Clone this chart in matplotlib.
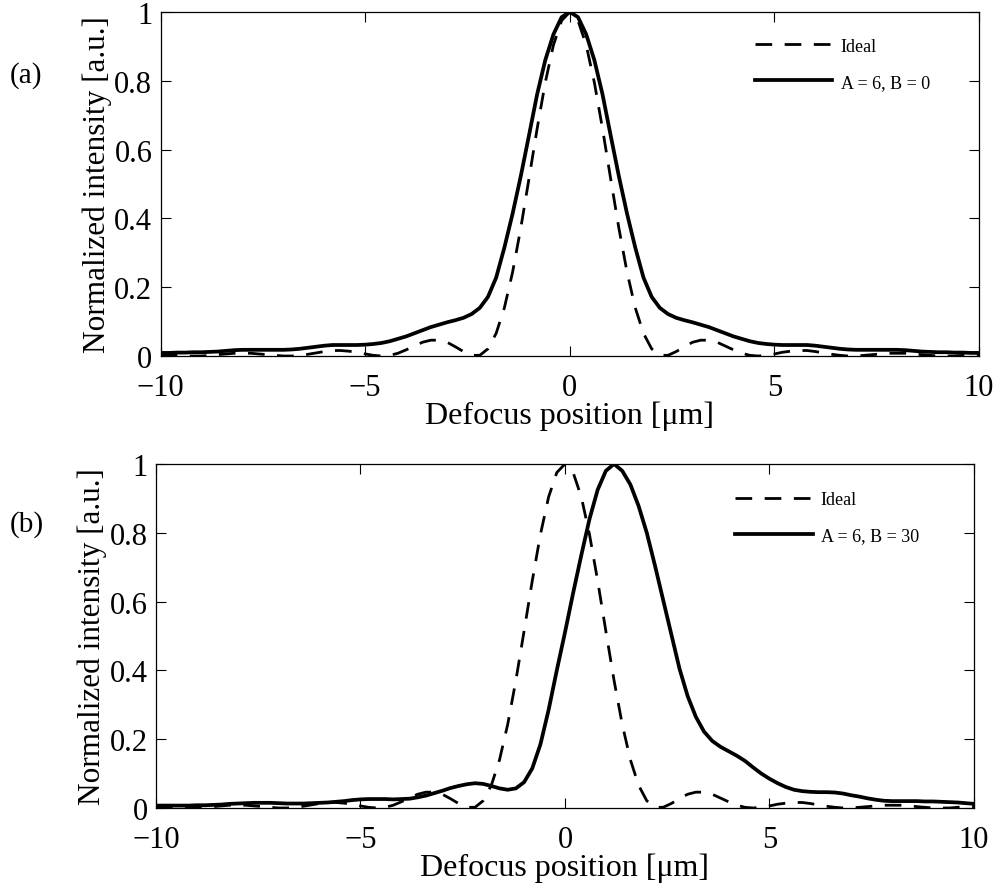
import numpy as np
import matplotlib
matplotlib.use('Agg')
import matplotlib.pyplot as plt

plt.rcParams['font.family'] = ['Liberation Serif', 'DejaVu Serif']

# defocus positions (um), step 0.2
defocus = np.linspace(-10, 10, 101)

# ideal focal intensity (same in both panels)
ideal = [0.004, 0.003, 0.002, 0.000, 0.000, 0.000, 0.002, 0.004, 0.006, 0.008,
         0.008, 0.008, 0.006, 0.004, 0.002, 0.000, 0.000, 0.002, 0.005, 0.009,
         0.013, 0.016, 0.016, 0.014, 0.011, 0.006, 0.002, 0.000, 0.002, 0.008,
         0.018, 0.029, 0.040, 0.046, 0.046, 0.040, 0.027, 0.013, 0.002, 0.002,
         0.021, 0.066, 0.140, 0.243, 0.371, 0.514, 0.660, 0.795, 0.904, 0.975,
         1.000,
         0.975, 0.904, 0.795, 0.660, 0.514, 0.371, 0.243, 0.140, 0.066, 0.021,
         0.002, 0.002, 0.013, 0.027, 0.040, 0.046, 0.046, 0.040, 0.029, 0.018,
         0.008, 0.002, 0.000, 0.002, 0.006, 0.011, 0.014, 0.016, 0.016, 0.013,
         0.009, 0.005, 0.002, 0.000, 0.000, 0.002, 0.004, 0.006, 0.008, 0.008,
         0.008, 0.006, 0.004, 0.002, 0.000, 0.000, 0.000, 0.002, 0.003, 0.004]

# A = 6, B = 0
ab_0 = [0.009, 0.009, 0.010, 0.010, 0.011, 0.011, 0.012, 0.013, 0.015, 0.017,
        0.018, 0.018, 0.018, 0.018, 0.018, 0.018, 0.019, 0.021, 0.024, 0.027,
        0.030, 0.032, 0.032, 0.032, 0.032, 0.033, 0.035, 0.038, 0.043, 0.050,
        0.057, 0.066, 0.075, 0.084, 0.091, 0.098, 0.104, 0.111, 0.122, 0.140,
        0.172, 0.228, 0.315, 0.413, 0.522, 0.640, 0.760, 0.860, 0.935, 0.985,
        1.000,
        0.985, 0.935, 0.860, 0.760, 0.640, 0.522, 0.413, 0.315, 0.228, 0.172,
        0.140, 0.122, 0.111, 0.104, 0.098, 0.091, 0.084, 0.075, 0.066, 0.057,
        0.050, 0.043, 0.038, 0.035, 0.033, 0.032, 0.032, 0.032, 0.032, 0.030,
        0.027, 0.024, 0.021, 0.019, 0.018, 0.018, 0.018, 0.018, 0.018, 0.018,
        0.017, 0.015, 0.013, 0.012, 0.011, 0.011, 0.010, 0.010, 0.009, 0.009]

# A = 6, B = 30
ab_30 = [0.007, 0.007, 0.007, 0.007, 0.007, 0.008, 0.008, 0.009, 0.010, 0.012,
         0.013, 0.014, 0.015, 0.015, 0.015, 0.014, 0.013, 0.013, 0.013, 0.014,
         0.015, 0.016, 0.018, 0.020, 0.023, 0.025, 0.026, 0.026, 0.026, 0.025,
         0.026, 0.027, 0.031, 0.036, 0.043, 0.050, 0.058, 0.064, 0.069, 0.072,
         0.070, 0.064, 0.057, 0.053, 0.057, 0.075, 0.115, 0.185, 0.285, 0.400,
         0.510,
         0.625, 0.735, 0.840, 0.925, 0.980, 1.000, 0.980, 0.940, 0.878, 0.800,
         0.705, 0.605, 0.505, 0.405, 0.325, 0.265, 0.222, 0.195, 0.178, 0.165,
         0.152, 0.137, 0.118, 0.100, 0.085, 0.072, 0.061, 0.053, 0.049, 0.047,
         0.046, 0.046, 0.045, 0.042, 0.037, 0.033, 0.028, 0.024, 0.021, 0.020,
         0.020, 0.020, 0.020, 0.019, 0.019, 0.018, 0.017, 0.016, 0.014, 0.012]

panels = [('(a)', ab_0, 'A = 6, B = 0'), ('(b)', ab_30, 'A = 6, B = 30')]
x_ticks = [-10, -5, 0, 5, 10]
y_ticks = [0, 0.2, 0.4, 0.6, 0.8, 1]
y_ticklabels = ['0', '0.2', '0.4', '0.6', '0.8', '1']

fig = plt.figure(figsize=(10.01, 8.95), dpi=100)
ax_rects = [[0.1605, 0.6011, 0.8175, 0.3844], [0.1558, 0.0961, 0.8172, 0.3844]]
legend_anchor = [(0.726, 0.925), (0.708, 0.92)]
label_y = [1 - 76 / 895, 1 - 525 / 895]

for i, (tag, values, name) in enumerate(panels):
    ax = fig.add_axes(ax_rects[i])
    ax.plot(defocus, ideal, color='black', lw=2.0, dashes=(6, 4.5), label='Ideal')
    ax.plot(defocus, values, color='black', lw=2.7, label=name)

    ax.set_xlim(-10, 10)
    ax.set_ylim(0, 1)
    ax.set_xticks(x_ticks)
    ax.set_yticks(y_ticks)
    ax.set_yticklabels(y_ticklabels)
    ax.tick_params(direction='in', top=True, right=True, length=7, width=0.8,
                   labelsize=22)
    ax.tick_params(axis='x', pad=12)
    ax.tick_params(axis='y', pad=6)
    for s in ax.spines.values():
        s.set_linewidth(0.9)

    ax.set_xlabel('Defocus position [μm]', fontsize=23, labelpad=-1)
    ax.set_ylabel('Normalized intensity [a.u.]', fontsize=22.5)
    ax.yaxis.set_label_coords(-0.06, 0.5)

    ax.legend(loc='upper left', bbox_to_anchor=legend_anchor[i], frameon=False,
              fontsize=13, handlelength=4.3, handletextpad=0.45,
              labelspacing=1.05, borderpad=0, borderaxespad=0)

    fig.text(10 / 1001, label_y[i], tag, fontsize=21, ha='left', va='center')

plt.savefig('out.png', dpi=100)
